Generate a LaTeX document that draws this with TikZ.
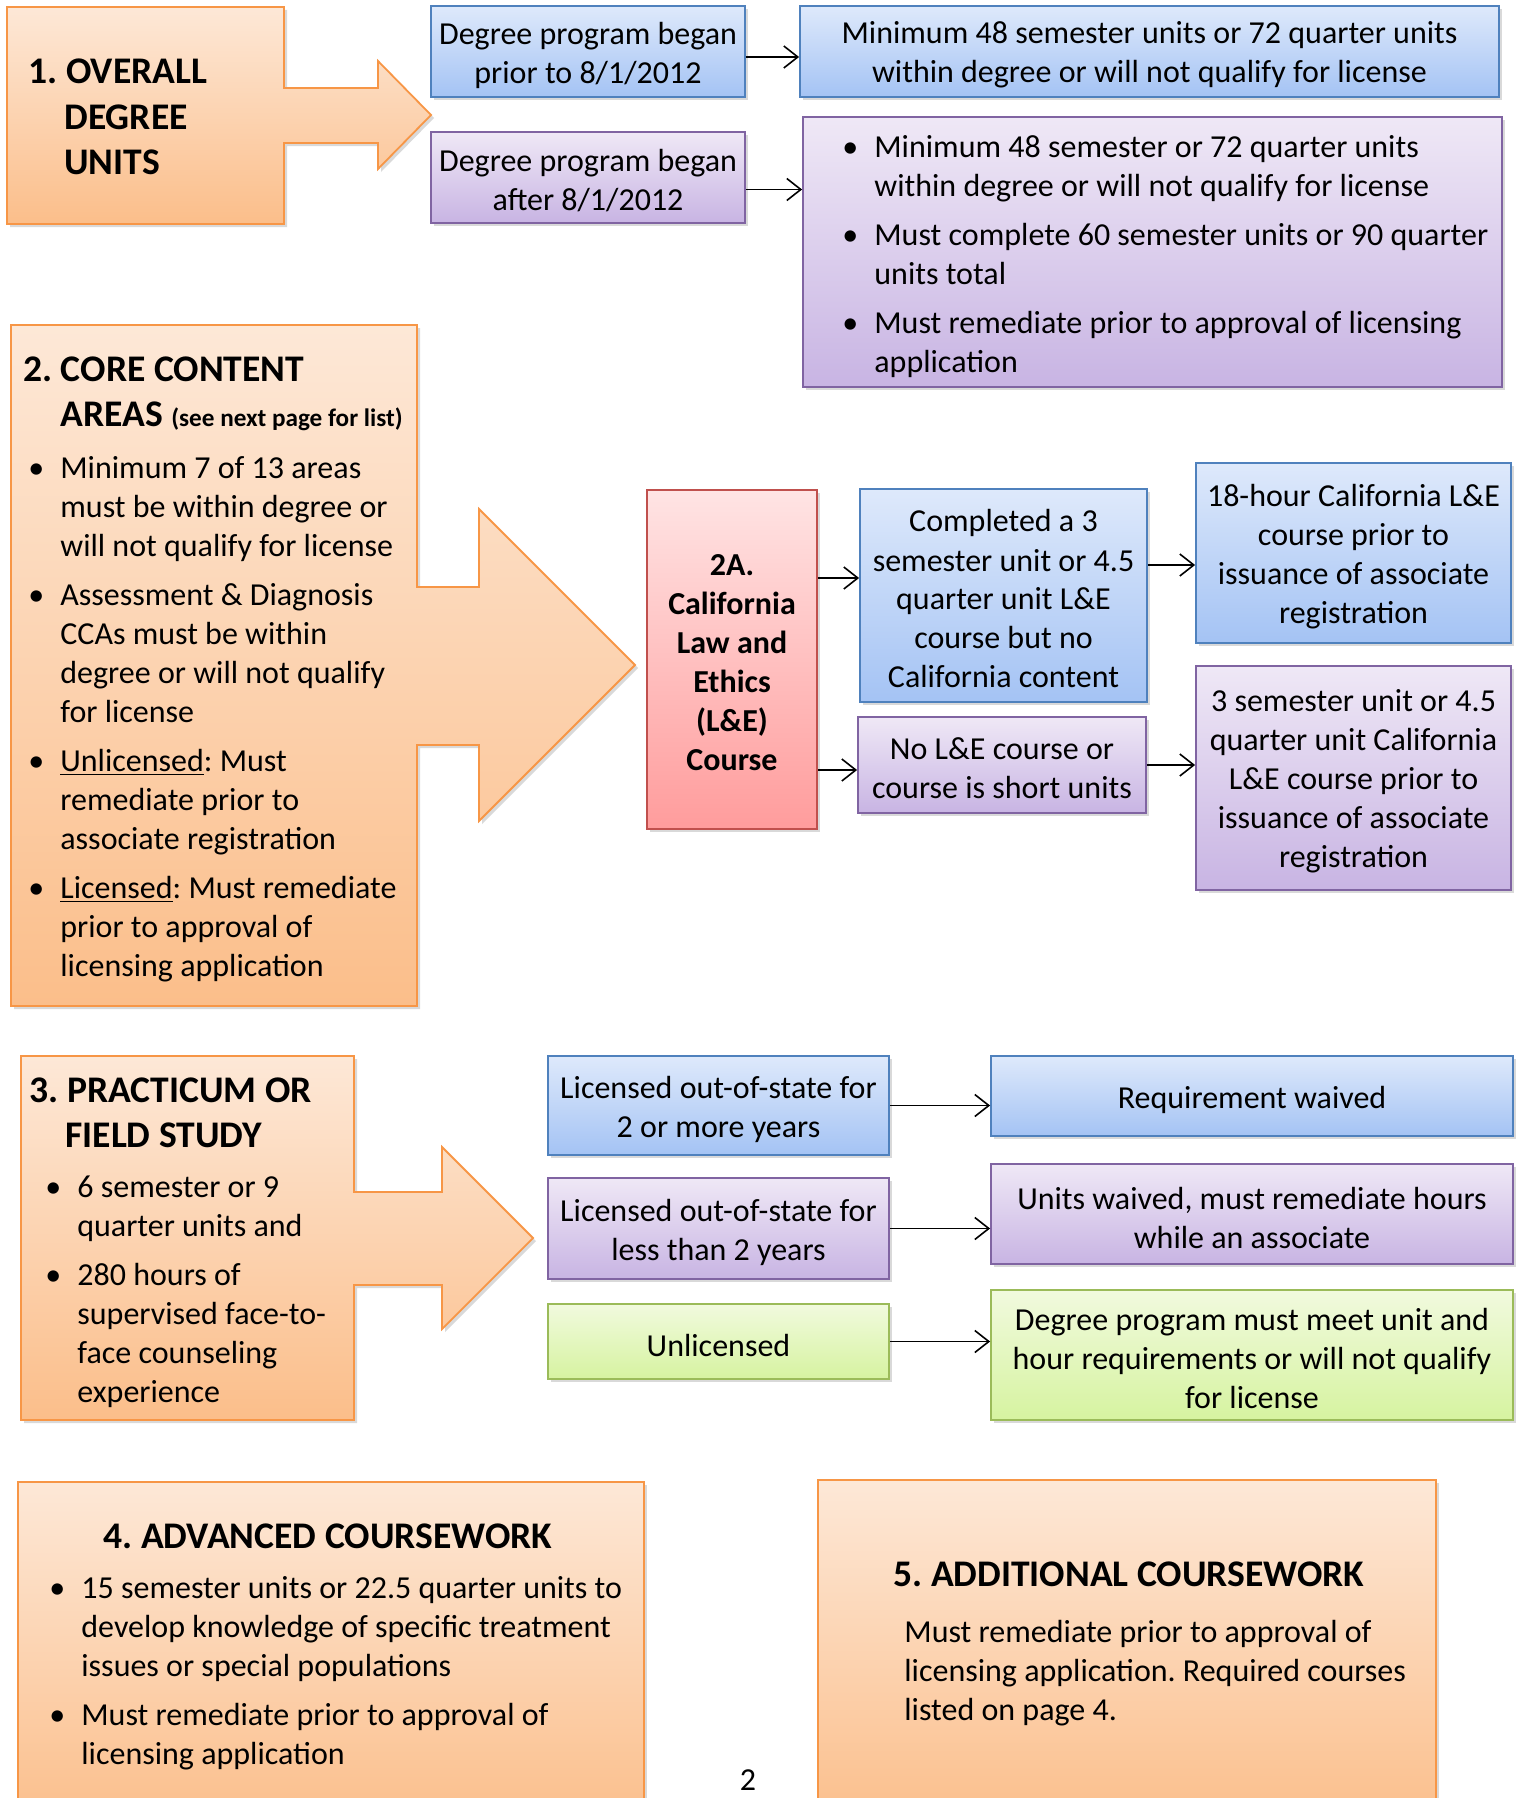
\documentclass[tikz,border=0pt]{standalone}
\usepackage{fontspec}
\setmainfont{Carlito}
\frenchspacing
\usetikzlibrary{arrows.meta,shadows}

\definecolor{orline}{RGB}{247,150,70}
\definecolor{ortop}{RGB}{253,232,215}
\definecolor{orbot}{RGB}{251,190,138}
\definecolor{blline}{RGB}{79,129,189}
\definecolor{bltop}{RGB}{222,233,251}
\definecolor{blbot}{RGB}{164,195,244}
\definecolor{puline}{RGB}{128,100,162}
\definecolor{putop}{RGB}{239,232,246}
\definecolor{pubot}{RGB}{200,180,227}
\definecolor{grline}{RGB}{155,187,89}
\definecolor{grtop}{RGB}{241,250,222}
\definecolor{grbot}{RGB}{214,243,160}
\definecolor{reline}{RGB}{192,80,77}
\definecolor{retop}{RGB}{255,228,228}
\definecolor{rebot}{RGB}{255,156,156}

\newcommand{\bodyfont}{\fontsize{16}{19.5}\selectfont}
\newcommand{\headfont}{\fontsize{18.8}{22.5}\selectfont\bfseries}
\newcommand{\bitem}[1]{\hangindent=16pt\hangafter=1\noindent\makebox[16pt][l]{\textbullet}#1\par}

\begin{document}
\begin{tikzpicture}[x=0.5pt, y=-0.5pt,
    shadowed/.style={drop shadow={opacity=0.3, shadow xshift=1.5pt, shadow yshift=-1.5pt}},
    box/.style={shadowed, line width=0.9pt, inner sep=0pt},
    boxtext/.style={inner sep=0pt, yshift=-1.75pt, align=flush center, font=\bodyfont},
    boxlabel/.style={label={[boxtext]center:{#1}}},
    bluebox/.style={box, draw=blline, top color=bltop, bottom color=blbot},
    purplebox/.style={box, draw=puline, top color=putop, bottom color=pubot},
    greenbox/.style={box, draw=grline, top color=grtop, bottom color=grbot},
    redbox/.style={box, draw=reline, top color=retop, bottom color=rebot},
    arrowbox/.style={shadowed, line width=0.9pt, draw=orline, top color=ortop, bottom color=orbot},
    titletext/.style={anchor=base west, inner sep=0pt, text width=320pt, align=flush left, font=\headfont},
    itemtext/.style={anchor=base west, inner sep=0pt, text width=360pt, align=flush left, font=\bodyfont},
    conn/.style={-{Straight Barb[length=7pt,width=11pt]}, line width=0.8pt}]
\useasboundingbox (0,0) rectangle (1521,1798);

% 1. overall degree units
\draw[arrowbox] (7,7) -- (284,7) -- (284,88) -- (378,88) -- (378,61) -- (431,115) -- (378,169) -- (378,143) -- (284,143) -- (284,224) -- (7,224) -- cycle;
\node[titletext] (overall) at (28,84) {1. OVERALL\newline\hspace*{18pt}DEGREE\newline\hspace*{18pt}UNITS};

\node[bluebox, minimum width=157pt, minimum height=45.5pt, boxlabel={Degree program began\\prior to 8/1/2012}] (prior) at (588,51.5) {};
\node[purplebox, minimum width=157pt, minimum height=45.5pt, boxlabel={Degree program began\\after 8/1/2012}] (after) at (588,177.5) {};
\node[bluebox, minimum width=349.5pt, minimum height=45.5pt, boxlabel={Minimum 48 semester units or 72 quarter units\\within degree or will not qualify for license}] (minunits) at (1149.5,51.5) {};
\node[purplebox, minimum width=349.5pt, minimum height=135pt] (newrules) at (1152.5,252) {};
\node[itemtext] (newlist) at (842,157) {\setlength{\parskip}{5pt}%
  \bitem{Minimum 48 semester or 72 quarter units\newline within degree or will not qualify for license}
  \bitem{Must complete 60 semester units or 90 quarter\newline units total}
  \bitem{Must remediate prior to approval of licensing\newline application}};
\draw[conn] ([yshift=-2.75pt]prior.east) -- ([yshift=-2.75pt]prior.east -| minunits.west);
\draw[conn] ([yshift=-6pt]after.east) -- ([yshift=-6pt]after.east -| newrules.west);

% 2. core content areas
\draw[arrowbox] (11,325) -- (417,325) -- (417,587) -- (479,587) -- (479,509) -- (635,665) -- (479,821) -- (479,745) -- (417,745) -- (417,1006) -- (11,1006) -- cycle;
\node[titletext] (core) at (23,381) {2. CORE CONTENT\newline\hspace*{18.5pt}AREAS {\fontsize{12.6}{14}\selectfont(see next page for list)}};
\node[itemtext] (corelist) at (28,478) {\setlength{\parskip}{5pt}%
  \bitem{Minimum 7 of 13 areas\newline must be within degree or\newline will not qualify for license}
  \bitem{Assessment \& Diagnosis\newline CCAs must be within\newline degree or will not qualify\newline for license}
  \bitem{\underline{Unlicensed}: Must\newline remediate prior to\newline associate registration}
  \bitem{\underline{Licensed}: Must remediate\newline prior to approval of\newline licensing application}};

% 2A. law and ethics
\node[redbox, minimum width=85pt, minimum height=169.5pt,
  label={[boxtext, font=\bodyfont\bfseries]center:{2A.\\California\\Law and\\Ethics\\(L\&E)\\Course}}] (calaw) at (732,659.5) {};
\node[bluebox, minimum width=143.5pt, minimum height=106.5pt, boxlabel={Completed a 3\\semester unit or 4.5\\quarter unit L\&E\\course but no\\California content}] (comp) at (1003.5,595.5) {};
\node[purplebox, minimum width=144pt, minimum height=48pt, boxlabel={No L\&E course or\\course is short units}] (nole) at (1002,765) {};
\node[bluebox, minimum width=157.5pt, minimum height=90pt, boxlabel={18-hour California L\&E\\course prior to\\issuance of associate\\registration}] (eighteen) at (1353.5,553) {};
\node[purplebox, minimum width=157.5pt, minimum height=112pt, boxlabel={3 semester unit or 4.5\\quarter unit California\\L\&E course prior to\\issuance of associate\\registration}] (threesem) at (1353.5,778) {};
\draw[conn] ([yshift=8.75pt]comp.west -| calaw.east) -- ([yshift=8.75pt]comp.west);
\draw[conn] ([yshift=-2.5pt]nole.west -| calaw.east) -- ([yshift=-2.5pt]nole.west);
\draw[conn] ([yshift=-6pt]eighteen.west -| comp.east) -- ([yshift=-6pt]eighteen.west);
\draw[conn] (nole.east) -- (nole.east -| threesem.west);

% 3. practicum
\draw[arrowbox] (21,1056) -- (354,1056) -- (354,1192) -- (442,1192) -- (442,1147) -- (533,1238) -- (442,1329) -- (442,1285) -- (354,1285) -- (354,1420) -- (21,1420) -- cycle;
\node[titletext] (practicum) at (29,1102) {3. PRACTICUM OR\newline\hspace*{18pt}FIELD STUDY};
\node[itemtext] (praclist) at (45,1197) {\setlength{\parskip}{5pt}%
  \bitem{6 semester or 9\newline quarter units and}
  \bitem{280 hours of\newline supervised face-to-\newline face counseling\newline experience}};

\node[bluebox, minimum width=170.5pt, minimum height=49.5pt, boxlabel={Licensed out-of-state for\\2 or more years}] (lictwo) at (718.5,1105.5) {};
\node[purplebox, minimum width=170.5pt, minimum height=50.5pt, boxlabel={Licensed out-of-state for\\less than 2 years}] (licless) at (718.5,1228.5) {};
\node[greenbox, minimum width=170.5pt, minimum height=37.5pt, boxlabel={Unlicensed}] (unlic) at (718.5,1341.5) {};
\node[bluebox, minimum width=261pt, minimum height=40pt, boxlabel={Requirement waived}] (waived) at (1252,1096) {};
\node[purplebox, minimum width=261pt, minimum height=50pt, boxlabel={Units waived, must remediate hours\\while an associate}] (unitswaived) at (1252,1214) {};
\node[greenbox, minimum width=261pt, minimum height=65pt, boxlabel={Degree program must meet unit and\\hour requirements or will not qualify\\for license}] (meetreq) at (1252,1355) {};
\draw[conn] (lictwo.east) -- (lictwo.east -| waived.west);
\draw[conn] (licless.east) -- (licless.east -| unitswaived.west);
\draw[conn] (unlic.east) -- (unlic.east -| meetreq.west);

% 4. and 5. coursework
\draw[arrowbox] (18,1482) rectangle (644,1830);
\node[titletext] (advanced) at (103,1548) {4. ADVANCED COURSEWORK};
\node[itemtext] (advlist) at (49,1598) {\setlength{\parskip}{5pt}%
  \bitem{15 semester units or 22.5 quarter units to\newline develop knowledge of specific treatment\newline issues or special populations}
  \bitem{Must remediate prior to approval of\newline licensing application}};

\draw[arrowbox] (818,1480) rectangle (1436,1830);
\node[titletext] (additional) at (893,1586) {5. ADDITIONAL COURSEWORK};
\node[itemtext] (addtext) at (904,1642) {Must remediate prior to approval of\newline licensing application. Required courses\newline listed on page 4.};

\node[font=\bodyfont, anchor=base, inner sep=0pt] (pagenum) at (748,1790) {2};
\end{tikzpicture}
\end{document}
